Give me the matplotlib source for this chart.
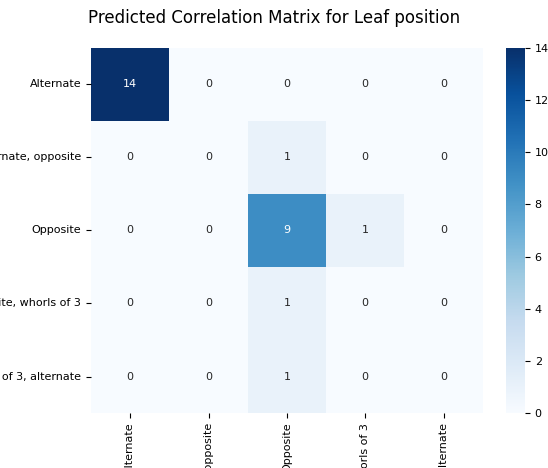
import matplotlib
matplotlib.use('Agg')
import matplotlib.pyplot as plt
import seaborn as sns
import numpy as np

# Categorías y matriz de conteos
labels = ['Alternate', 'Alternate, opposite', 'Opposite',
          'Opposite, whorls of 3', 'Whorls of 3, alternate']
counts = np.array([
    [14, 0, 0, 0, 0],
    [0, 0, 1, 0, 0],
    [0, 0, 9, 1, 0],
    [0, 0, 1, 0, 0],
    [0, 0, 1, 0, 0],
])

fig = plt.figure(figsize=(5.48, 4.68), dpi=100)
ax = fig.add_axes([0.166, 0.1175, 0.715, 0.78])
cax = fig.add_axes([0.924, 0.1175, 0.034, 0.78])

sns.heatmap(counts, annot=True, fmt='d', cmap='Blues', ax=ax, cbar_ax=cax,
            xticklabels=labels, yticklabels=labels, vmin=0, vmax=14,
            annot_kws={'fontsize': 8})

# Título centrado en la figura
fig.suptitle('Predicted Correlation Matrix for Leaf position', fontsize=12,
             x=0.5, y=0.962, va='center')
ax.tick_params(labelsize=8)
plt.setp(ax.get_xticklabels(), rotation=90)
plt.setp(ax.get_yticklabels(), rotation=0)
cax.tick_params(labelsize=8)
cax.set_yticks([0, 2, 4, 6, 8, 10, 12, 14])
for s in cax.spines.values():
    s.set_visible(False)

fig.savefig('out.png', dpi=100)
